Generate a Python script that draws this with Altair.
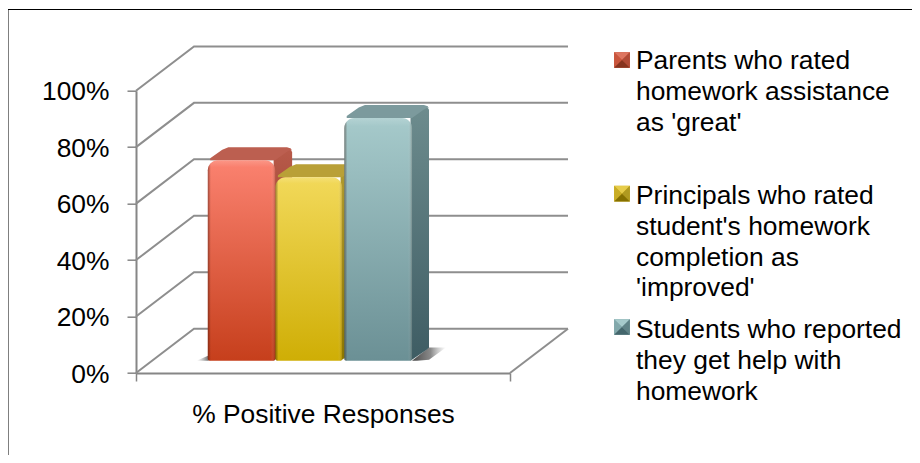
import altair as alt
import pandas as pd

series = ["Parents", "Principals", "Students"]
values = [71, 65, 86]
bar_left = [0.192, 0.373, 0.557]
bar_right = [0.372, 0.551, 0.738]
front_top = ["#fb8270", "#f2d95a", "#a6cacb"]
front_bot = ["#c63f1c", "#cfae05", "#6b9095"]
top_col = ["#bc5f50", "#b9a037", "#7c9a9d"]
side_top = ["#b85a4a", "#b09a30", "#6d8c8e"]
side_bot = ["#7e2c14", "#8a7500", "#3e5c63"]
sw_top = ["#dd7560", "#e6cc4a", "#a6cacb"]
sw_left = ["#c9553c", "#c9ad25", "#82a8ab"]
sw_right = ["#b04a36", "#b09a20", "#5f8286"]
sw_bot = ["#86341f", "#857000", "#44666c"]
legend_lines = [
    ["Parents who rated", "homework assistance", "as 'great'"],
    ["Principals who rated", "student's homework", "completion as", "'improved'"],
    ["Students who reported", "they get help with", "homework"],
]
grid_values = [0, 20, 40, 60, 80, 100]
x_title = "% Positive Responses"

# layout
TOTAL_W, TOTAL_H = 904, 447
W, H = 374, 282.3
PAD_L, PAD_T = 128, 82.7
BACK_DX, BACK_DY = 58 / W, 15.7
BAR_DX, BAR_DY = 17 / W, 4.6
BAR_BASE = 4.36
R_X, R_Y = 6 / W, 6 * 100 / H
CORNER = 10
FONT = "Liberation Sans"
AXC = "#868686"
FS = 26.4

xs = alt.Scale(domain=[0, 1], range=[0, W], nice=False, zero=False)
ys = alt.Scale(domain=[0, 100], range=[H, 0], nice=False, zero=False)
x_axis = alt.Axis(values=[0, 1], labels=False, tickSize=8, tickColor=AXC, tickWidth=1.5,
                  domainColor=AXC, domainWidth=2, grid=False, titleFont=FONT,
                  titleFontSize=FS, titleFontWeight="normal", titleColor="#000000", titlePadding=20)
y_axis = alt.Axis(values=grid_values, labelExpr="datum.value + '%'", tickSize=9,
                  tickColor=AXC, tickWidth=1.5, domainColor=AXC, domainWidth=2, grid=False,
                  labelFont=FONT, labelFontSize=FS, labelColor="#000000", labelPadding=18, labelOffset=1)
X = lambda f="x": alt.X(f"{f}:Q", scale=xs, axis=x_axis, title=x_title)
Y = lambda f="y": alt.Y(f"{f}:Q", scale=ys, axis=y_axis, title=None)


def grad(stops, x2=0, y2=1):
    return alt.Gradient(gradient="linear", x1=0, y1=0, x2=x2, y2=y2,
                        stops=[alt.GradientStop(offset=o, color=c) for o, c in stops])


# wall and floor lines
rows = []
for v in grid_values:
    back = v + BACK_DY
    rows += [dict(g=v, o=0, x=0, y=v), dict(g=v, o=1, x=BACK_DX, y=back), dict(g=v, o=2, x=1 + BACK_DX, y=back)]
rows += [dict(g=-1, o=0, x=1, y=0), dict(g=-1, o=1, x=1 + BACK_DX, y=BACK_DY)]
grid = alt.Chart(pd.DataFrame(rows)).mark_line(color="#8e8e8e", strokeWidth=2).encode(
    x=X(), y=Y(), detail="g:N", order="o:Q")

layers = [grid]

# floor shadow, right of the last bar
r = bar_right[2]
shadow = pd.DataFrame([
    dict(x=r, y=BAR_BASE, y2=BAR_BASE),
    dict(x=r + BAR_DX * .3, y=BAR_BASE, y2=BAR_BASE + 1.4),
    dict(x=r + BAR_DX, y=BAR_BASE + 0.3, y2=BAR_BASE + BAR_DY + .1),
    dict(x=r + BAR_DX * 2.0, y=BAR_BASE + BAR_DY + .1, y2=BAR_BASE + BAR_DY + .1),
])
layers.append(alt.Chart(shadow).mark_area(
    color=grad([(0, "rgba(40,40,40,0.85)"), (0.55, "rgba(60,60,60,0.6)"), (1, "rgba(120,120,120,0)")], x2=1, y2=0)
).encode(x=X(), y=Y(), y2="y2:Q"))
l = bar_left[0]
layers.append(alt.Chart(pd.DataFrame([
    dict(x=l - .03, y=BAR_BASE, y2=BAR_BASE), dict(x=l + .002, y=BAR_BASE, y2=BAR_BASE + 1.8)
])).mark_area(color=grad([(0, "rgba(120,120,120,0)"), (1, "rgba(50,50,50,0.7)")], x2=1, y2=0)).encode(
    x=X(), y=Y(), y2="y2:Q"))

for i in range(3):
    l, rt, v = bar_left[i], bar_right[i], values[i]
    top = v + BAR_BASE
    # side face with rounded back corner
    side = pd.DataFrame([
        dict(x=rt - .004, y=BAR_BASE, y2=top),
        dict(x=rt + BAR_DX - R_X * .4, y=BAR_BASE + BAR_DY * .85, y2=top + BAR_DY - R_Y * .2),
        dict(x=rt + BAR_DX, y=BAR_BASE + BAR_DY, y2=top + BAR_DY - R_Y * .8),
    ])
    layers.append(alt.Chart(side).mark_area(
        color=grad([(0, side_top[i]), (1, side_bot[i])])
    ).encode(x=X(), y=Y(), y2="y2:Q"))
    # top face with rounded corners
    tf = pd.DataFrame([
        dict(x=l + R_X * .4, y=top, y2=top + BAR_DY * .15),
        dict(x=l + BAR_DX * .85, y=top, y2=top + BAR_DY * .8),
        dict(x=l + BAR_DX + R_X * .6, y=top, y2=top + BAR_DY),
        dict(x=rt, y=top, y2=top + BAR_DY),
        dict(x=rt + BAR_DX * .7, y=top + BAR_DY * .65, y2=top + BAR_DY),
        dict(x=rt + BAR_DX * .93, y=top + BAR_DY * .8, y2=top + BAR_DY * .9),
        dict(x=rt + BAR_DX, y=top + BAR_DY * .7, y2=top + BAR_DY * .7),
    ])
    layers.append(alt.Chart(tf).mark_area(color=top_col[i]).encode(x=X(), y=Y(), y2="y2:Q"))
    # front face
    fr = pd.DataFrame([dict(x=l, x2=rt, y=BAR_BASE, y2=top)])
    layers.append(alt.Chart(fr).mark_rect(
        cornerRadiusTopLeft=CORNER, cornerRadiusTopRight=CORNER, cornerRadiusBottomLeft=2, cornerRadiusBottomRight=2,
        color=grad([(0, front_top[i]), (1, front_bot[i])])
    ).encode(x=X(), x2="x2:Q", y=Y(), y2="y2:Q"))
    # bevel shading
    layers.append(alt.Chart(fr).mark_rect(
        cornerRadiusTopLeft=CORNER, cornerRadiusTopRight=CORNER, cornerRadiusBottomLeft=2, cornerRadiusBottomRight=2,
        color=grad([(0, "rgba(40,10,0,0.42)"), (0.045, "rgba(40,10,0,0)"), (0.94, "rgba(255,255,255,0)"),
                    (1, "rgba(40,10,0,0.22)")], x2=1, y2=0)
    ).encode(x=X(), x2="x2:Q", y=Y(), y2="y2:Q"))
    layers.append(alt.Chart(fr).mark_rect(
        cornerRadiusTopLeft=CORNER, cornerRadiusTopRight=CORNER,
        color=grad([(0, "rgba(255,255,255,0.16)"), (0.035, "rgba(255,255,255,0)"), (1, "rgba(255,255,255,0)")])
    ).encode(x=X(), x2="x2:Q", y=Y(), y2="y2:Q"))

# frame: top and left edges only, the others run off the picture
px = lambda v: alt.value(v)
OX, OY = -PAD_L, -PAD_T
frame = pd.DataFrame({"a": [0]})
layers.append(alt.Chart(frame).mark_rule(color="#000000", strokeWidth=1).encode(
    x=px(OX), x2=px(TOTAL_W - PAD_L), y=px(OY + 1.5)))
layers.append(alt.Chart(frame).mark_rule(color="#000000", strokeWidth=1).encode(
    x=px(OX), y=px(OY + 1.5), y2=px(TOTAL_H - PAD_T)))

# legend
LEG_TEXT_X = 636 - 8 - PAD_L
LEG_SW_X = 622 - 8 - PAD_L
LINE = 30.9
first_baseline = [69, 203.7, 337.7]
sw_center = [60, 193.7, 327]
text_rows, sw_rows = [], []
for i, lines in enumerate(legend_lines):
    for j, s in enumerate(lines):
        text_rows.append(dict(t=s, py=first_baseline[i] + j * LINE - 8 - PAD_T))
    sw_rows.append(dict(i=i, py=sw_center[i] - 8 - PAD_T, top=sw_top[i], left=sw_left[i],
                        right=sw_right[i], bot=sw_bot[i]))
sw = pd.DataFrame(sw_rows)
SZ = 248
for shape, col in [("M-1,-1L1,-1L1,1L-1,1Z", "left"), ("M-1,-1L1,-1L0,0Z", "top"), ("M-1,-1L0,0L-1,1Z", "left"),
                   ("M1,-1L0,0L1,1Z", "right"), ("M-1,1L0,0L1,1Z", "bot")]:
    layers.append(alt.Chart(sw).mark_point(filled=True, shape=shape, size=SZ, opacity=1, strokeWidth=0).encode(
        x=px(LEG_SW_X), y=alt.Y("py:Q", scale=None), color=alt.Color(f"{col}:N", scale=None)))
layers.append(alt.Chart(pd.DataFrame(text_rows)).mark_text(
    align="left", baseline="alphabetic", font=FONT, fontSize=FS, color="#000000"
).encode(x=px(LEG_TEXT_X), y=alt.Y("py:Q", scale=None), text="t:N"))

chart = alt.layer(*layers).properties(
    width=W, height=H,
    padding={"left": PAD_L, "top": PAD_T, "right": TOTAL_W - W - PAD_L, "bottom": TOTAL_H - H - PAD_T},
    autosize=alt.AutoSizeParams(type="none"),
    background="white",
).configure_view(stroke=None)

chart.save("out.html", embed_options={"renderer": "svg", "actions": False})
